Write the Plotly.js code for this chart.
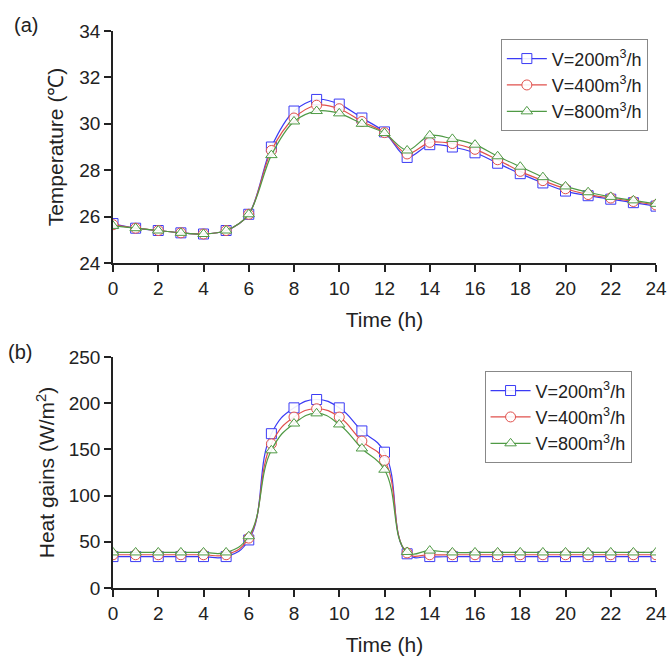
<!DOCTYPE html>
<html>
<head>
<meta charset="utf-8">
<script src="https://cdn.plot.ly/plotly-3.0.1.min.js"></script>
<style>html,body{margin:0;padding:0;background:#fff;}#chart{width:669px;height:659px;}</style>
</head>
<body>
<div id="chart"></div>
<script>
const hours = [0,1,2,3,4,5,6,7,8,9,10,11,12,13,14,15,16,17,18,19,20,21,22,23,24];
const seriesNames = ["V=200m<sup>3</sup>/h", "V=400m<sup>3</sup>/h", "V=800m<sup>3</sup>/h"];

// Temperature (°C)
const temp200 = [25.7,25.5,25.4,25.3,25.25,25.4,26.1,29.0,30.55,31.05,30.85,30.25,29.65,28.55,29.1,29.0,28.75,28.3,27.85,27.45,27.1,26.9,26.75,26.6,26.45];
const temp400 = [25.65,25.5,25.4,25.3,25.25,25.4,26.1,28.85,30.25,30.8,30.65,30.1,29.62,28.7,29.2,29.15,28.9,28.45,27.95,27.55,27.2,26.95,26.8,26.65,26.5];
const temp800 = [25.6,25.5,25.4,25.3,25.25,25.4,26.1,28.65,30.1,30.55,30.45,30.0,29.6,28.85,29.5,29.35,29.1,28.6,28.15,27.7,27.3,27.05,26.85,26.7,26.55];

// Heat gains (W/m2)
const heat200 = [34,34,34,34,34,34,52,167,195,204,195,170,147,37,34,34,34,34,34,34,34,34,34,34,34];
const heat400 = [36,36,36,36,36,36,54,156,185,194,185,159,138,38,36,36,36,36,36,36,36,36,36,36,36];
const heat800 = [38.5,38.5,38.5,38.5,38.5,38.5,56,149,178,189,177,151,128,39,40.5,38.5,38.5,38.5,38.5,38.5,38.5,38.5,38.5,38.5,38.5];

const colors = ["#3b3bf5", "#e0504c", "#4f9a45"];
const symbols = ["square", "circle", "triangle-up"];
const tempSets = [temp200, temp400, temp800];
const heatSets = [heat200, heat400, heat800];

const traces = [];
tempSets.forEach((ys, i) => {
  traces.push({
    x: hours, y: ys, type: "scatter", mode: "lines+markers",
    name: seriesNames[i], xaxis: "x", yaxis: "y", legend: "legend",
    line: {color: colors[i], width: 1.2, shape: "spline", smoothing: 0.9},
    marker: {symbol: symbols[i], size: 10, color: "rgba(255,255,255,0.9)", line: {color: colors[i], width: 1}}
  });
});
heatSets.forEach((ys, i) => {
  traces.push({
    x: hours, y: ys, type: "scatter", mode: "lines+markers",
    name: seriesNames[i], xaxis: "x2", yaxis: "y2", legend: "legend2",
    line: {color: colors[i], width: 1.2, shape: "spline", smoothing: 1.3},
    marker: {symbol: symbols[i], size: 10, color: "rgba(255,255,255,0.9)", line: {color: colors[i], width: 1}}
  });
});

const fontFam = "Liberation Sans, Arial, sans-serif";
const titleFont = {family: fontFam, size: 21, color: "#222"};
const axisCommon = {
  showgrid: false, zeroline: false, showline: true, linecolor: "#222", linewidth: 1.5,
  ticks: "outside", ticklen: 7, tickwidth: 1.5, tickcolor: "#222",
  tickfont: {family: fontFam, size: 19, color: "#222"}
};
const legendCommon = {
  bgcolor: "rgba(255,255,255,1)", bordercolor: "#888", borderwidth: 1,
  font: {family: fontFam, size: 18, color: "#222"},
  xanchor: "right", yanchor: "top", tracegroupgap: 0, itemwidth: 40
};

const layout = {
  width: 669, height: 659,
  margin: {l: 113, r: 13, t: 31, b: 71},
  paper_bgcolor: "#fff", plot_bgcolor: "#fff",
  showlegend: true,
  xaxis: Object.assign({}, axisCommon, {domain: [0, 1], range: [0, 24], dtick: 2, anchor: "y",
    title: {text: "Time (h)", font: titleFont, standoff: 15}}),
  yaxis: Object.assign({}, axisCommon, {domain: [0.5835, 1], range: [24, 34], dtick: 2, anchor: "x",
    title: {text: "Temperature (℃)", font: titleFont, standoff: 10}}),
  xaxis2: Object.assign({}, axisCommon, {domain: [0, 1], range: [0, 24], dtick: 2, anchor: "y2",
    title: {text: "Time (h)", font: titleFont, standoff: 15}}),
  yaxis2: Object.assign({}, axisCommon, {domain: [0, 0.4147], range: [0, 250], dtick: 50, anchor: "x2",
    title: {text: "Heat gains (W/m<sup>2</sup>)", font: titleFont, standoff: 8}}),
  legend: Object.assign({}, legendCommon, {x: 0.985, y: 0.985}),
  legend2: Object.assign({}, legendCommon, {x: 0.955, y: 0.389}),
  annotations: [
    {text: "(a)", xref: "paper", yref: "paper", x: -0.186, y: 1.011, xanchor: "left", yanchor: "middle", showarrow: false,
     font: {family: fontFam, size: 20, color: "#222"}},
    {text: "(b)", xref: "paper", yref: "paper", x: -0.197, y: 0.424, xanchor: "left", yanchor: "middle", showarrow: false,
     font: {family: fontFam, size: 20, color: "#222"}}
  ]
};

Plotly.newPlot("chart", traces, layout, {displayModeBar: false, responsive: false});
</script>
</body>
</html>
